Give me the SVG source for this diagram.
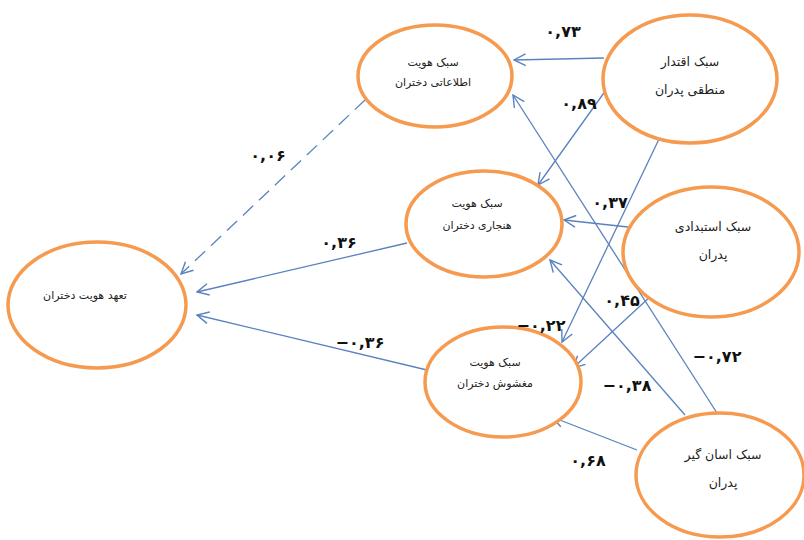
<svg xmlns="http://www.w3.org/2000/svg" width="804" height="540" viewBox="0 0 804 540">
<defs>
<style>
.node ellipse{fill:#ffffff;stroke:#F59A4E;stroke-width:3.5}
.nt{font-family:"DejaVu Sans",sans-serif;font-size:11px;fill:#222;text-anchor:middle}
.nt2{font-family:"DejaVu Sans",sans-serif;font-size:12.5px;fill:#222;text-anchor:middle}
.edge{stroke:#5A82BE;stroke-width:1.3;fill:none;marker-end:url(#ah)}
.dash{stroke-dasharray:14,8}
.lb{font-family:"DejaVu Sans",sans-serif;font-size:16px;font-weight:bold;fill:#111;text-anchor:middle;direction:ltr}
</style>
<marker id="ah" viewBox="0 0 12 12" refX="11" refY="6" markerWidth="14" markerHeight="14" markerUnits="userSpaceOnUse" orient="auto">
<path d="M1,1 L11,6 L1,11" fill="none" stroke="#5A82BE" stroke-width="1.2"/>
</marker>
</defs>
<rect width="804" height="540" fill="#ffffff"/>
<g id="connectors">
<line class="edge" x1="604" y1="58" x2="514" y2="60"/>
<line class="edge" x1="606" y1="90" x2="538" y2="185"/>
<line class="edge" x1="660" y1="137" x2="562" y2="342"/>
<line class="edge" x1="637" y1="228" x2="564" y2="220"/>
<line class="edge" x1="652" y1="295" x2="573" y2="368"/>
<line class="edge" x1="717" y1="413" x2="513" y2="95"/>
<line class="edge" x1="685" y1="415" x2="550" y2="260"/>
<line class="edge" x1="637" y1="450" x2="552" y2="417"/>
<line class="edge dash" x1="365" y1="100" x2="181" y2="274"/>
<line class="edge" x1="407" y1="243" x2="197" y2="292"/>
<line class="edge" x1="427" y1="370" x2="197" y2="315"/>
</g>
<g id="node-info" class="node">
<ellipse cx="435" cy="76" rx="77" ry="51"/>
<text class="nt" x="433" y="66">سبک هویت</text>
<text class="nt" x="433" y="86">اطلاعاتی دختران</text>
</g>
<g id="node-authoritative" class="node">
<ellipse cx="690" cy="79" rx="87" ry="64"/>
<text class="nt2" x="690" y="66">سبک اقتدار</text>
<text class="nt2" x="690" y="94">منطقی پدران</text>
</g>
<g id="node-normative" class="node">
<ellipse cx="484" cy="224" rx="78" ry="53"/>
<text class="nt" x="477" y="207">سبک هویت</text>
<text class="nt" x="477" y="229">هنجاری دختران</text>
</g>
<g id="node-authoritarian" class="node">
<ellipse cx="711" cy="252" rx="88" ry="65"/>
<text class="nt2" x="713" y="231">سبک استبدادی</text>
<text class="nt2" x="713" y="259">پدران</text>
</g>
<g id="node-diffuse" class="node">
<ellipse cx="503" cy="382" rx="78" ry="55"/>
<text class="nt" x="495" y="366">سبک هویت</text>
<text class="nt" x="495" y="387">مغشوش دختران</text>
</g>
<g id="node-permissive" class="node">
<ellipse cx="720" cy="475" rx="84" ry="62"/>
<text class="nt2" x="723" y="459">سبک اسان گیر</text>
<text class="nt2" x="723" y="487">پدران</text>
</g>
<g id="node-commitment" class="node">
<ellipse cx="97" cy="305" rx="89" ry="63"/>
<text class="nt" x="85" y="299">تعهد هویت دختران</text>
</g>
<g id="labels">
<text class="lb" x="563" y="37">۰,۷۳</text>
<text class="lb" x="579" y="109">۰,۸۹</text>
<text class="lb" x="610" y="208">۰,۳۷</text>
<text class="lb" x="622" y="306">۰,۴۵</text>
<text class="lb" x="541" y="331">−۰,۲۲</text>
<text class="lb" x="627" y="391">−۰,۳۸</text>
<text class="lb" x="588" y="466">۰,۶۸</text>
<text class="lb" x="717" y="362">−۰,۷۲</text>
<text class="lb" x="268" y="161">۰,۰۶</text>
<text class="lb" x="339" y="248">۰,۳۶</text>
<text class="lb" x="360" y="348">−۰,۳۶</text>
</g>
</svg>
